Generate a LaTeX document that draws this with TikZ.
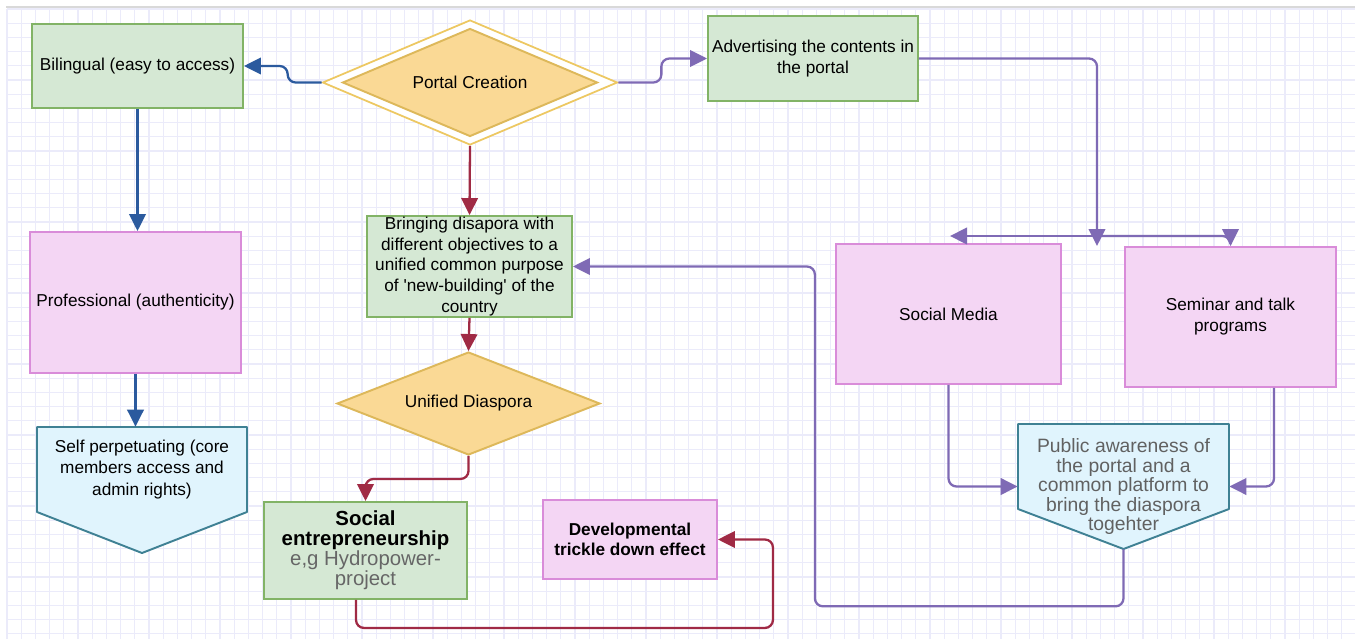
\documentclass[tikz,border=0pt]{standalone}
\usepackage{fontspec}
\setmainfont{Liberation Sans}
\usepackage{tikz}
\usetikzlibrary{arrows.meta,shapes.geometric}
\definecolor{diasporagreen}{HTML}{D5E8D4}
\definecolor{diasporagreenline}{HTML}{82B366}
\definecolor{diasporapink}{HTML}{F4D6F4}
\definecolor{diasporapinkline}{HTML}{D98CD9}
\definecolor{diasporasky}{HTML}{E0F4FD}
\definecolor{diasporaskyline}{HTML}{3F8194}
\definecolor{diasporagold}{HTML}{FAD995}
\definecolor{diasporagoldline}{HTML}{DDB85A}
\definecolor{diasporagoldpale}{HTML}{EDC862}
\definecolor{diasporablue}{HTML}{2B5A9E}
\definecolor{diasporared}{HTML}{A02A45}
\definecolor{diasporaviolet}{HTML}{7F6AB5}
\definecolor{diasporagrid}{HTML}{EBEBFA}

\begin{document}
\begin{tikzpicture}[
  x=0.02cm, y=-0.02cm,
  every node/.style={font=\fontsize{9.8}{12}\selectfont, inner sep=0pt, align=center},
  greenbox/.style={draw=diasporagreenline, fill=diasporagreen, line width=1.1pt},
  pinkbox/.style={draw=diasporapinkline, fill=diasporapink, line width=1.1pt},
  skybox/.style={draw=diasporaskyline, fill=diasporasky, line width=1.1pt, line join=round},
  goldbox/.style={diamond, draw=diasporagoldline, fill=diasporagold, line width=1.1pt},
  flow/.style={-{Triangle[length=3.4mm,width=3.3mm]}, line width=1.3pt, rounded corners=1.6mm},
  blueflow/.style={flow, draw=diasporablue},
  redflow/.style={flow, draw=diasporared},
  violetflow/.style={flow, draw=diasporaviolet}
]
\useasboundingbox (0,0) rectangle (1355,639);
\fill[white] (0,0) rectangle (1355,639);
\foreach \gx in {7,21.2,...,1355} \draw[diasporagrid, line width=0.6pt] (\gx,9) -- (\gx,639);
\foreach \gy in {9,23.2,...,639} \draw[diasporagrid, line width=0.6pt] (7,\gy) -- (1355,\gy);
\draw[black!15, line width=0.8pt] (6,7) -- (1355,7);

\node[greenbox, minimum width=4.22cm, minimum height=1.68cm] (bilingual) at (137.5,66) {Bilingual (easy to access)};
\node[diamond, aspect=2.36, draw=diasporagoldpale, fill=white, line width=1pt, minimum width=5.9cm, minimum height=2.5cm] (portal) at (470,82.5) {};
\node[goldbox, aspect=2.36, minimum width=5.1cm, minimum height=2.16cm] (portalcore) at (portal) {Portal Creation};
\node[greenbox, minimum width=4.2cm, minimum height=1.7cm] (adv) at (813,58.5) {Advertising the contents in\\the portal};
\node[pinkbox, minimum width=4.22cm, minimum height=2.82cm] (professional) at (135.5,302.5) {Professional (authenticity)};
\draw[skybox] (37,427) -- (247,427) -- (247,512) -- (142,553) -- (37,512) -- cycle;
\node[minimum width=4.2cm, minimum height=1.7cm] (selfperp) at (142,469.5) {Self perpetuating (core\\members access and\\admin rights)};
\node[greenbox, minimum width=4.1cm, minimum height=2.02cm, font=\fontsize{9.8}{11.7}\selectfont] (bringing) at (469.5,266.5)
  {Bringing disapora with\\different objectives to a\\unified common purpose\\of \textquotesingle new-building\textquotesingle{} of the\\country};
\node[goldbox, aspect=2.55, minimum width=5.26cm, minimum height=2.06cm] (unified) at (468.5,403.5) {Unified Diaspora};
\node[greenbox, minimum width=4.06cm, minimum height=1.94cm, font=\fontsize{11.6}{11.4}\selectfont] (socent) at (365.5,550.5)
  {\textbf{Social}\\\textbf{entrepreneurship}\\\textcolor{black!60}{e,g Hydropower-}\\\textcolor{black!60}{project}};
\node[pinkbox, minimum width=3.48cm, minimum height=1.58cm, font=\fontsize{9.8}{11}\selectfont\bfseries] (dev) at (630,539.5) {Developmental\\trickle down effect};
\node[pinkbox, minimum width=4.5cm, minimum height=2.8cm] (media) at (948.5,314) {Social Media};
\node[pinkbox, minimum width=4.22cm, minimum height=2.8cm] (seminar) at (1230.5,317) {Seminar and talk\\programs};
\draw[skybox] (1018,424) -- (1229,424) -- (1229,509) -- (1123.5,549) -- (1018,509) -- cycle;
\node[minimum width=4.22cm, minimum height=2.5cm, font=\fontsize{11}{11.1}\selectfont, text=black!62] (public) at (1123.5,486.5)
  {Public awareness of\\the portal and a\\common platform to\\bring the diaspora\\togehter};

\coordinate (advsplit) at (1097,236);
\coordinate (advdrop) at (1097,246);
\coordinate (mediatip) at (950,236);

\draw[blueflow] (portal.west) -- ++(-34,0) |- (bilingual.east);
\draw[blueflow] (bilingual.south) -- (bilingual.south |- professional.north);
\draw[blueflow] (professional.south) -- (professional.south |- selfperp.north);
\draw[violetflow] (portal.east) -- ++(43,0) |- (adv.west);
\draw[redflow] (portal.south) -- (bringing.north);
\draw[redflow] (bringing.south) -- (unified.north);
\draw[redflow] (unified.south) -- ++(0,23) -| (socent.north);
\draw[redflow] ([xshift=-1.9mm]socent.south) -- ++(0,28) -| ([xshift=1.1cm]dev.east) -- (dev.east);
\draw[violetflow] (adv.east) -| (advdrop);
\draw[violetflow] (advsplit) -- (mediatip);
\draw[violetflow] (advsplit) -| (seminar.north);
\draw[violetflow] (media.south) |- (public.west);
\draw[violetflow] ([xshift=8.7mm]seminar.south) |- (public.east);
\draw[violetflow] (public.south) -- ++(0,57) -| ([xshift=4.84cm]bringing.east) -- (bringing.east);
\end{tikzpicture}
\end{document}
